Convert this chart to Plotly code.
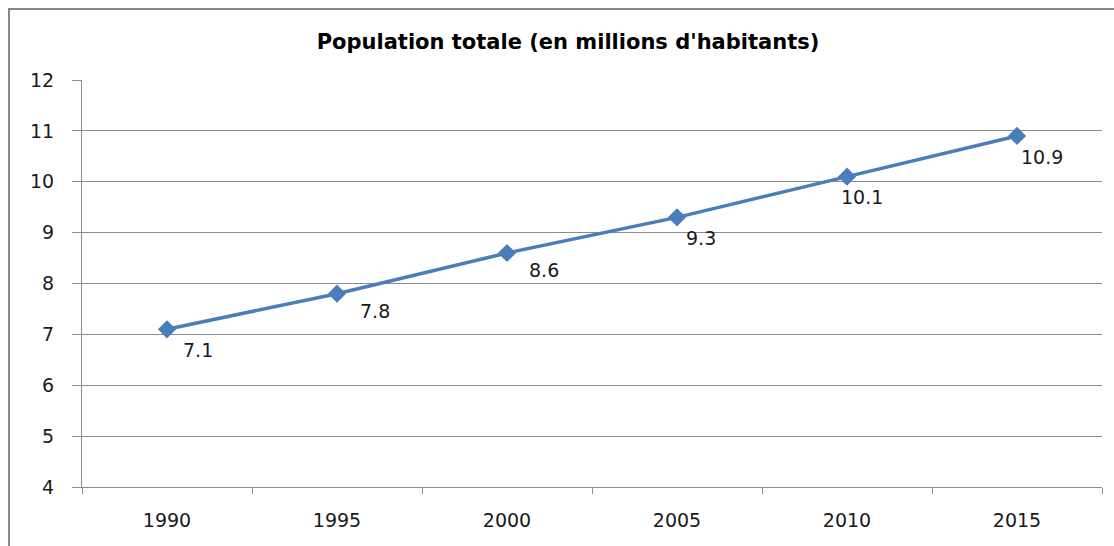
import plotly.graph_objects as go

# Population totale, en millions d'habitants
years = ["1990", "1995", "2000", "2005", "2010", "2015"]
population = [7.1, 7.8, 8.6, 9.3, 10.1, 10.9]
y_ticks = [4, 5, 6, 7, 8, 9, 10, 11, 12]

# pixel offsets of each value label from its marker (dx right, dy down)
label_dx = [31, 38, 37, 24, 15, 25]
label_dy = [21, 17, 17, 21, 20, 21]

LINE_BLUE = "#4A7EBB"
GRID = "#8C8C8C"
FONT = "DejaVu Sans"

fig = go.Figure()
fig.add_trace(go.Scatter(
    x=years,
    y=population,
    mode="lines+markers",
    line=dict(color=LINE_BLUE, width=3.5),
    marker=dict(symbol="diamond", size=14, color=LINE_BLUE),
    showlegend=False,
    hoverinfo="x+y",
))

# value labels; category axis positions are addressed by index
for i, (v, dx, dy) in enumerate(zip(population, label_dx, label_dy)):
    fig.add_annotation(
        x=i, y=v, text=f"{v:g}", showarrow=False,
        xanchor="center", yanchor="middle",
        xshift=dx, yshift=-dy,
        font=dict(family=FONT, size=19, color="#1a1a1a"),
    )

# outer chart frame (top and left edges visible)
fig.add_shape(
    type="rect", xref="paper", yref="paper",
    x0=-0.0716, x1=1.2, y0=-0.3, y1=1.1744,
    line=dict(color="#888888", width=2), fillcolor="rgba(0,0,0,0)",
    layer="below",
)

fig.update_layout(
    width=1114, height=546,
    margin=dict(l=82, r=12, t=80, b=59),
    paper_bgcolor="white", plot_bgcolor="white",
    title=dict(
        text="<b>Population totale (en millions d'habitants)</b>",
        x=568 / 1114, xanchor="center",
        y=1 - 42 / 546, yanchor="middle",
        font=dict(family=FONT, size=21, color="#000000"),
    ),
    xaxis=dict(
        type="category", range=[-0.5, 5.5],
        tickson="boundaries", ticks="outside", ticklen=6, tickcolor=GRID,
        showline=True, linecolor=GRID, linewidth=1,
        showgrid=False, zeroline=False,
        tickfont=dict(family=FONT, size=19, color="#1a1a1a"),
        ticklabelstandoff=16,
    ),
    yaxis=dict(
        range=[4, 12], tickvals=y_ticks,
        ticks="outside", ticklen=9, tickcolor=GRID,
        showline=True, linecolor=GRID, linewidth=1,
        showgrid=True, gridcolor=GRID, gridwidth=1,
        zeroline=False,
        tickfont=dict(family=FONT, size=19, color="#1a1a1a"),
        ticklabelstandoff=14,
    ),
)

fig.write_html("out.html")
